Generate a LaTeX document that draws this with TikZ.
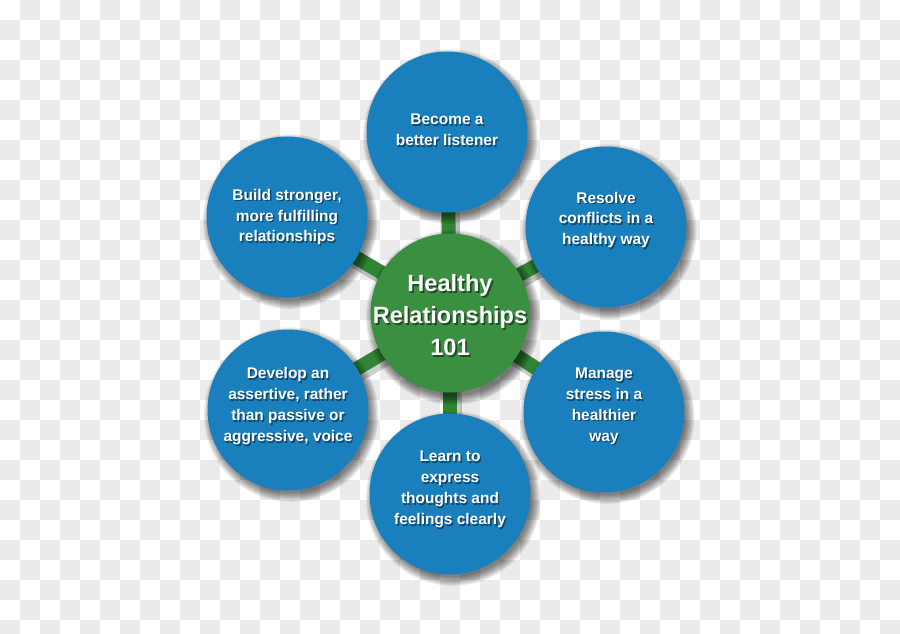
\documentclass[tikz,border=0pt]{standalone}
\usepackage{fontspec}
\setmainfont{Liberation Sans}
\usepackage{xcolor}
\usepackage{tikz}
\usetikzlibrary{positioning, backgrounds, calc}
\definecolor{topicblue}{RGB}{26,128,189}
\definecolor{hubgreen}{RGB}{58,143,64}
\definecolor{spokegreen}{RGB}{47,133,52}
\definecolor{checkgray}{RGB}{235,235,235}

\begin{document}
\begin{tikzpicture}[
    x=0.02cm, y=-0.02cm,
    topic/.style={circle, fill=topicblue, minimum size=3.22cm, inner sep=0pt},
    hub/.style={circle, fill=hubgreen, minimum size=3.18cm, inner sep=0pt},
    caption/.style={text=white, align=center, font=\fontsize{8.8}{11.9}\selectfont\bfseries},
    hubcaption/.style={text=white, align=center, font=\fontsize{13.4}{18.2}\selectfont\bfseries},
    spoke/.style={line width=0.28cm, draw=spokegreen},
    spokeshadow/.style={line width=0.36cm, draw=black, opacity=0.2}
]
\useasboundingbox (0,0) rectangle (900,633);

% Centre and outer circles
\node[hub] (hub) at (450,313) {};
\node[topic] (listen) at (447,132) {};
\node[topic] (conflict) at (606,227) {};
\node[topic] (stress) at (604,412) {};
\node[topic] (express) at (450,494) {};
\node[topic] (assert) at (288,410) {};
\node[topic] (bond) at (287,217) {};

% Texts, with a soft shadow below each
\foreach \n/\t/\s in {
    listen/{Become a\\better listener}/1.4,
    conflict/{Resolve\\conflicts in a\\healthy way}/4,
    stress/{Manage\\stress in a\\healthier\\way}/3.4,
    express/{Learn to\\express\\thoughts and\\feelings clearly}/2.5,
    assert/{Develop an\\assertive, rather\\than passive or\\aggressive, voice}/2.3,
    bond/{Build stronger,\\more fulfilling\\relationships}/0} {
  \node[caption, text=black, opacity=0.45, xshift=0.8pt, yshift=\s pt-1pt] at (\n) {\t};
  \node[caption, yshift=\s pt] at (\n) {\t};
}
\node[hubcaption, text=black, opacity=0.45, xshift=1pt, yshift=-2.2pt] at (hub) {Healthy\\Relationships\\101};
\node[hubcaption, yshift=-1pt] at (hub) {Healthy\\Relationships\\101};

\begin{scope}[on background layer]
  % checkerboard
  \begin{scope}
    \clip (0,0) rectangle (900,633);
    \fill[white] (0,0) rectangle (900,633);
    \foreach \j in {0,2,...,30}
      \foreach \i in {1,3,...,43}
        \fill[checkgray] (20*\i,20*\j) rectangle +(20,20);
    \foreach \j in {1,3,...,31}
      \foreach \i in {0,2,...,44}
        \fill[checkgray] (20*\i,20*\j) rectangle +(20,20);
  \end{scope}

  % spokes
  \foreach \n in {listen,conflict,stress,express,assert,bond}
    \draw[spokeshadow] ([shift={(1.5pt,-2pt)}]hub.center) -- ([shift={(1.5pt,-2pt)}]\n.center);
  \foreach \n in {listen,conflict,stress,express,assert,bond}
    \draw[spoke] (hub.center) -- (\n.center);

  % soft circle shadows
  \foreach \n in {listen,conflict,stress,express,assert,bond,hub}
    \foreach \k in {0,...,7}
      \fill[black, opacity=0.08] ([shift={(1.8pt,-2.6pt)}]\n.center) circle ({1.57cm+\k*0.025cm});
\end{scope}

\end{tikzpicture}
\end{document}
